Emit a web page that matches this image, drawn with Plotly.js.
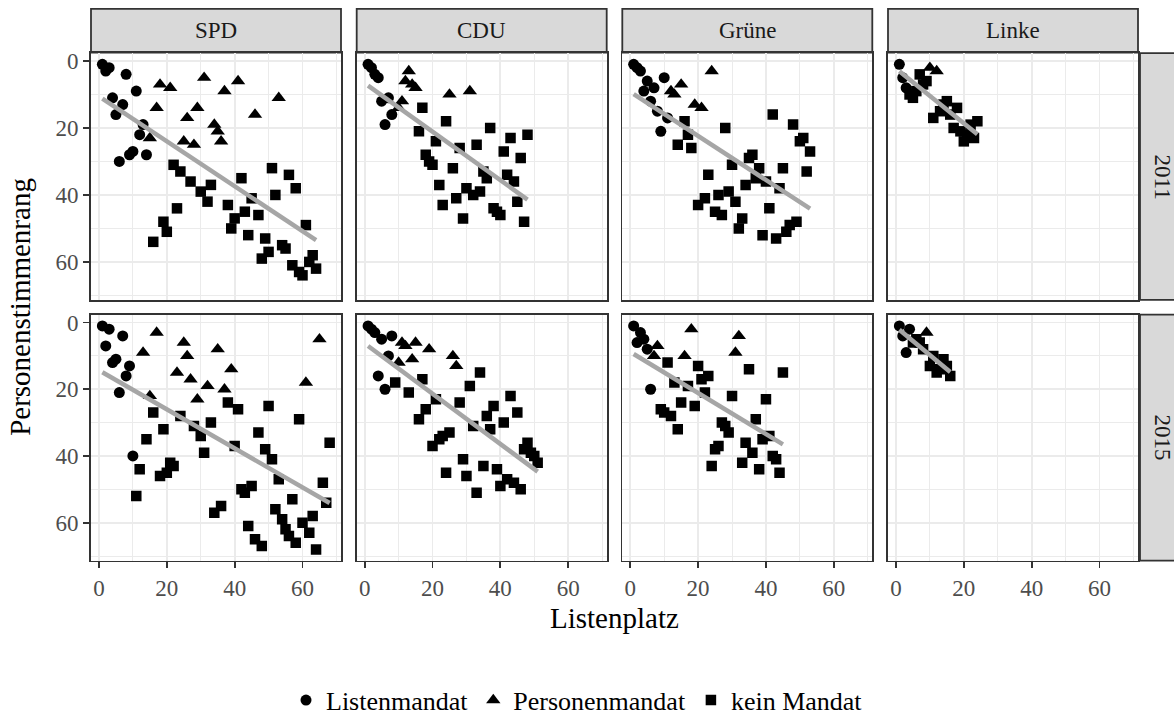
<!DOCTYPE html>
<html><head><meta charset="utf-8">
<script src="https://cdn.plot.ly/plotly-3.0.1.min.js"></script>
<style>html,body{margin:0;padding:0;background:#fff}#chart{width:1174px;height:724px}</style>
</head><body><div id="chart"></div>
<script>
// ---------- categories / labels ----------
const parties = ['SPD', 'CDU', 'Grüne', 'Linke'];
const years = ['2011', '2015'];
const mandatLabels = ['Listenmandat', 'Personenmandat', 'kein Mandat'];
const tickValues = [0, 20, 40, 60];
const xTitle = 'Listenplatz';
const yTitle = 'Personenstimmenrang';

// ---------- data: [Listenplatz, Personenstimmenrang] ----------
// SPD 2011
const spd2011Liste = [[1,1],[2,3],[3,2],[8,4],[11,9],[4,11],[7,13],[5,16],[13,19],[12,22],[10,27],[9,28],[6,30],[14,28]];
const spd2011Person = [[18,7],[21,8],[31,5],[41,6],[37,9],[53,11],[17,14],[29,14],[26,17],[46,16],[34,19],[35,21],[15,23],[25,24],[28,25],[36,24]];
const spd2011Kein = [[22,31],[24,33],[27,36],[33,37],[30,39],[32,42],[42,35],[51,32],[56,34],[58,38],[52,40],[45,41],[38,43],[43,45],[47,46],[40,47],[39,50],[23,44],[19,48],[20,51],[16,54],[44,52],[49,53],[61,49],[54,55],[55,56],[50,57],[48,59],[57,61],[59,63],[60,64],[63,58],[62,60],[64,62]];
// CDU 2011
const cdu2011Liste = [[1,1],[2,2],[3,4],[4,5],[7,11],[5,12],[8,16],[6,19]];
const cdu2011Person = [[13,3],[12,6],[14,7],[15,8],[25,10],[31,9],[11,12],[10,14]];
const cdu2011Kein = [[17,14],[24,18],[16,21],[37,20],[43,23],[48,22],[21,24],[28,26],[33,25],[41,27],[46,29],[18,28],[19,30],[20,31],[26,32],[35,33],[36,35],[42,34],[44,36],[22,37],[30,38],[34,39],[32,40],[27,41],[45,42],[23,43],[38,44],[39,45],[40,46],[29,47],[47,48]];
// Grüne 2011
const gruene2011Liste = [[1,1],[2,2],[3,3],[5,6],[10,5],[7,8],[4,9],[6,12],[8,15],[11,17],[9,21]];
const gruene2011Person = [[24,3],[15,7],[12,9],[13,10],[19,13],[21,14]];
const gruene2011Kein = [[16,18],[17,22],[14,25],[18,26],[28,20],[42,16],[48,19],[51,23],[50,24],[53,27],[36,28],[35,29],[30,31],[45,32],[38,32],[52,33],[23,34],[37,35],[40,36],[34,37],[44,38],[29,39],[26,40],[22,41],[31,42],[20,43],[41,44],[25,45],[27,46],[33,47],[32,50],[49,48],[47,49],[46,51],[43,53],[39,52]];
// Linke 2011
const linke2011Liste = [[1,1],[2,5],[3,8]];
const linke2011Person = [[10,2],[12,3]];
const linke2011Kein = [[7,4],[9,6],[8,7],[4,10],[5,11],[6,9],[15,12],[18,14],[13,15],[11,17],[16,16],[14,13],[22,19],[24,18],[17,20],[19,21],[21,22],[20,24],[23,23]];
// SPD 2015
const spd2015Liste = [[1,1],[3,2],[7,4],[2,7],[4,12],[5,11],[9,13],[8,16],[6,21],[10,40]];
const spd2015Person = [[17,3],[25,6],[65,5],[35,8],[13,9],[26,10],[39,14],[23,15],[27,17],[61,18],[32,19],[37,20],[15,22],[29,23]];
const spd2015Kein = [[38,24],[41,26],[50,25],[16,27],[24,28],[59,29],[33,30],[28,31],[19,32],[30,34],[47,33],[14,35],[68,36],[40,37],[49,38],[31,39],[51,41],[21,42],[22,43],[12,44],[20,45],[18,46],[53,47],[66,48],[42,50],[45,49],[43,51],[11,52],[57,53],[67,54],[36,55],[52,56],[34,57],[63,58],[54,59],[60,60],[44,61],[55,62],[62,63],[56,64],[46,65],[58,66],[48,67],[64,68]];
// CDU 2015
const cdu2015Liste = [[1,1],[2,2],[3,3],[5,5],[8,4],[7,10],[4,16],[6,20]];
const cdu2015Person = [[11,6],[12,7],[15,6],[19,8],[26,10],[27,13],[10,12],[14,11]];
const cdu2015Kein = [[34,15],[9,18],[17,17],[31,19],[13,21],[43,22],[21,23],[28,24],[38,25],[18,26],[45,27],[36,28],[16,29],[41,30],[32,31],[37,32],[25,33],[23,34],[22,35],[20,37],[48,36],[47,38],[49,39],[50,40],[51,42],[29,41],[35,43],[39,44],[24,45],[30,46],[42,47],[44,48],[40,49],[46,50],[33,51]];
// Grüne 2015
const gruene2015Liste = [[1,1],[3,3],[4,5],[2,6],[5,8],[6,20]];
const gruene2015Person = [[18,2],[32,4],[8,7],[7,10],[16,10],[31,9]];
const gruene2015Kein = [[11,12],[20,13],[35,14],[45,15],[23,16],[21,17],[13,18],[17,19],[22,21],[30,22],[40,23],[15,24],[19,25],[9,26],[10,27],[12,28],[37,29],[27,30],[28,31],[14,32],[29,33],[41,34],[39,35],[34,36],[26,37],[25,38],[36,39],[42,40],[43,41],[33,42],[24,43],[38,44],[44,45]];
// Linke 2015
const linke2015Liste = [[1,1],[4,2],[2,4],[3,9]];
const linke2015Person = [[9,3]];
const linke2015Kein = [[6,5],[5,6],[7,6],[8,8],[11,10],[14,11],[10,13],[12,15],[13,14],[15,13],[16,16]];

const panelData = [
  [spd2011Liste, spd2011Person, spd2011Kein],
  [cdu2011Liste, cdu2011Person, cdu2011Kein],
  [gruene2011Liste, gruene2011Person, gruene2011Kein],
  [linke2011Liste, linke2011Person, linke2011Kein],
  [spd2015Liste, spd2015Person, spd2015Kein],
  [cdu2015Liste, cdu2015Person, cdu2015Kein],
  [gruene2015Liste, gruene2015Person, gruene2015Kein],
  [linke2015Liste, linke2015Person, linke2015Kein]
];

// ---------- layout geometry (pixels) ----------
const W = 1174, H = 724;
const colPx = [[91, 341], [356.7, 606.7], [622.3, 872.3], [888, 1138]];
const rowPx = [[54, 305], [320, 570]];
const px = v => v / W;
const py = v => 1 - v / H;

const FONT = 'Liberation Serif, Times New Roman, serif';
const symbols = ['circle', 'triangle-up', 'square'];
const sizes = [11, 12.5, 10.5];

const traces = [];
const layout = {
  width: W, height: H,
  margin: {l: 0, r: 0, t: 0, b: 0},
  paper_bgcolor: '#ffffff', plot_bgcolor: '#ffffff',
  font: {family: FONT, color: '#000000'},
  showlegend: true,
  legend: {
    orientation: 'h', x: 577 / W, xanchor: 'center', y: py(712), yanchor: 'middle',
    font: {family: FONT, size: 26, color: '#000000'},
    bgcolor: 'rgba(0,0,0,0)', traceorder: 'normal'
  },
  shapes: [], annotations: []
};

function lmLine(pts) {
  const n = pts.length;
  let mx = 0, my = 0;
  pts.forEach(p => { mx += p[0]; my += p[1]; });
  mx /= n; my /= n;
  let sxy = 0, sxx = 0;
  pts.forEach(p => { sxy += (p[0] - mx) * (p[1] - my); sxx += (p[0] - mx) ** 2; });
  const b = sxy / sxx, a = my - b * mx;
  const xs = pts.map(p => p[0]);
  const x0 = Math.min(...xs), x1 = Math.max(...xs);
  return {x: [x0, x1], y: [a + b * x0, a + b * x1]};
}

for (let r = 0; r < 2; r++) {
  for (let c = 0; c < 4; c++) {
    const i = r * 4 + c + 1;
    const xa = 'xaxis' + (i > 1 ? i : ''), ya = 'yaxis' + (i > 1 ? i : '');
    const xr = 'x' + (i > 1 ? i : ''), yr = 'y' + (i > 1 ? i : '');
    const common = {
      tickmode: 'array', tickvals: tickValues, ticktext: tickValues.map(String),
      showgrid: true, gridcolor: '#EBEBEB', gridwidth: 1.8,
      minor: {tickmode: 'array', tickvals: [10, 30, 50, 70], showgrid: true, gridcolor: '#EBEBEB', gridwidth: 1, ticks: ''},
      zeroline: false, showline: true, mirror: true, linecolor: '#333333', linewidth: 1.8,
      tickfont: {family: FONT, size: 23, color: '#4D4D4D'},
      tickcolor: '#333333', tickwidth: 1.8, ticklen: 6, fixedrange: true
    };
    layout[xa] = Object.assign({}, common, {
      domain: [px(colPx[c][0]), px(colPx[c][1])], anchor: yr, range: [-2.35, 71.35],
      ticks: r === 1 ? 'outside' : '', showticklabels: r === 1
    });
    layout[ya] = Object.assign({}, common, {
      domain: [py(rowPx[r][1]), py(rowPx[r][0])], anchor: xr, range: [71.35, -2.35],
      ticks: c === 0 ? 'outside' : '', showticklabels: c === 0
    });
    const groups = panelData[i - 1];
    groups.forEach((pts, k) => {
      traces.push({
        type: 'scatter', mode: 'markers', xaxis: xr, yaxis: yr,
        x: pts.map(p => p[0]), y: pts.map(p => p[1]),
        name: mandatLabels[k], legendgroup: mandatLabels[k], showlegend: i === 1,
        marker: {symbol: symbols[k], size: sizes[k], color: '#000000', line: {width: 0}},
        hoverinfo: 'x+y'
      });
    });
    const all = groups[0].concat(groups[1], groups[2]);
    const fit = lmLine(all);
    traces.push({
      type: 'scatter', mode: 'lines', xaxis: xr, yaxis: yr, x: fit.x, y: fit.y,
      line: {color: '#A6A6A6', width: 4.5}, showlegend: false, hoverinfo: 'skip'
    });
  }
}

// top strips
for (let c = 0; c < 4; c++) {
  layout.shapes.push({type: 'rect', xref: 'paper', yref: 'paper',
    x0: px(colPx[c][0]), x1: px(colPx[c][1]), y0: py(53.5), y1: py(9),
    fillcolor: '#D9D9D9', line: {color: '#333333', width: 1.8}, layer: 'below'});
  layout.annotations.push({xref: 'paper', yref: 'paper', x: px((colPx[c][0] + colPx[c][1]) / 2), y: py(31),
    text: parties[c], showarrow: false, xanchor: 'center', yanchor: 'middle',
    font: {family: FONT, size: 23, color: '#1A1A1A'}});
}
// right strips
for (let r = 0; r < 2; r++) {
  layout.shapes.push({type: 'rect', xref: 'paper', yref: 'paper',
    x0: px(1140), x1: px(1184), y0: py(rowPx[r][1]), y1: py(rowPx[r][0]),
    fillcolor: '#D9D9D9', line: {color: '#333333', width: 1.8}, layer: 'below'});
  layout.annotations.push({xref: 'paper', yref: 'paper', x: px(1162), y: py((rowPx[r][0] + rowPx[r][1]) / 2),
    text: years[r], textangle: 90, showarrow: false, xanchor: 'center', yanchor: 'middle',
    font: {family: FONT, size: 23, color: '#1A1A1A'}});
}
// axis titles
layout.annotations.push({xref: 'paper', yref: 'paper', x: px((colPx[0][0] + colPx[3][1]) / 2), y: py(628),
  text: xTitle, showarrow: false, xanchor: 'center', yanchor: 'middle',
  font: {family: FONT, size: 29, color: '#000000'}});
layout.annotations.push({xref: 'paper', yref: 'paper', x: px(20), y: py((rowPx[0][0] + rowPx[1][1]) / 2),
  text: yTitle, textangle: -90, showarrow: false, xanchor: 'center', yanchor: 'middle',
  font: {family: FONT, size: 29, color: '#000000'}});

Plotly.newPlot('chart', traces, layout, {displayModeBar: false, staticPlot: true});
</script>
</body></html>
